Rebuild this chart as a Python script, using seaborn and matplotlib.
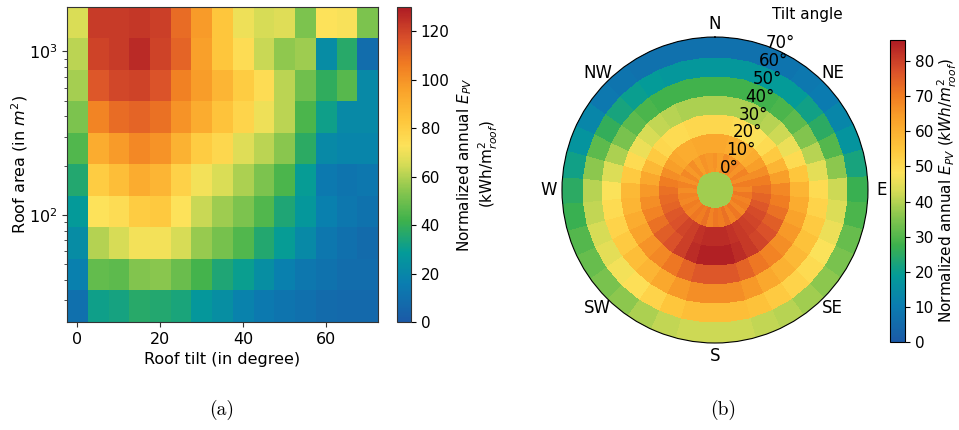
import numpy as np
import pandas as pd
import matplotlib
matplotlib.use("Agg")
import matplotlib.pyplot as plt
from matplotlib.colors import LinearSegmentedColormap
import seaborn as sns

# ---------------------------------------------------------------- data
# (a) roof tilt classes (deg) and roof-area class edges (m^2, log spaced)
tilt_classes = [0, 5, 10, 15, 20, 25, 30, 35, 40, 45, 50, 55, 60, 65, 70]
area_edges = [22.1, 34.4, 53.7, 83.7, 130.5, 203.4, 317, 494, 770, 1200, 1870]

# normalized annual E_PV per (area class, tilt class); largest areas first
area_1870 = [66, 122, 122, 123, 121, 110, 98, 83, 70, 65, 67, 52, 73, 72, 52]
area_1200 = [61, 120, 122, 126, 120, 112, 96, 83, 75, 63, 55, 57, 22, 37, 9]
area_770 = [58, 115, 119, 120, 116, 105, 97, 89, 81, 75, 61, 50, 39, 46, 21]
area_494 = [52, 104, 110, 112, 109, 100, 92, 84, 78, 70, 61, 44, 31, 21, 21]
area_317 = [45, 92, 98, 103, 100, 90, 81, 77, 67, 61, 54, 38, 21, 19, 19]
area_203 = [36, 81, 86, 92, 89, 79, 71, 66, 59, 52, 44, 29, 14, 12, 13]
area_130 = [28, 73, 75, 81, 82, 73, 63, 57, 52, 45, 35, 27, 17, 13, 11]
area_84 = [22, 60, 65, 71, 71, 65, 56, 51, 45, 36, 29, 21, 13, 10, 8]
area_54 = [17, 48, 47, 53, 54, 49, 43, 35, 30, 23, 17, 13, 11, 9, 9]
area_34 = [10, 31, 33, 37, 36, 34, 27, 23, 18, 14, 12, 10, 8, 7, 7]

# (b) tilt rings and azimuth sectors (deg, clockwise from north)
tilt_rings = [0, 10, 20, 30, 40, 50, 60, 70]
azimuths = list(range(0, 360, 10))
flat_roof = 38
ring_10 = [66, 64, 67, 65, 68, 66, 69, 67, 70, 68, 71, 69, 70, 68, 71, 69, 72, 70,
           71, 69, 72, 70, 71, 69, 70, 68, 69, 67, 69, 66, 68, 65, 67, 64, 66, 65]
ring_20 = [62, 62, 61, 60, 60, 61, 64, 67, 70, 72, 74, 76, 78, 79, 80, 81, 82, 83,
           83, 83, 82, 80, 79, 77, 76, 74, 73, 72, 70, 67, 64, 62, 61, 61, 62, 62]
ring_30 = [51, 51, 50, 49, 48, 50, 54, 59, 64, 68, 70, 72, 75, 77, 79, 81, 83, 85,
           85, 85, 83, 80, 77, 75, 72, 69, 67, 65, 62, 58, 54, 51, 50, 50, 51, 51]
ring_40 = [39, 39, 39, 39, 40, 42, 46, 50, 55, 59, 61, 63, 65, 67, 69, 71, 74, 76,
           76, 76, 74, 71, 68, 66, 63, 61, 59, 58, 54, 50, 46, 43, 41, 40, 39, 39]
ring_50 = [28, 28, 28, 28, 29, 31, 35, 40, 45, 50, 52, 54, 56, 58, 60, 62, 65, 67,
           67, 67, 65, 62, 59, 57, 54, 52, 50, 48, 44, 39, 34, 31, 29, 28, 28, 28]
ring_60 = [18, 18, 18, 19, 19, 21, 25, 30, 36, 42, 44, 46, 48, 50, 52, 54, 56, 57,
           57, 57, 55, 52, 49, 47, 45, 43, 41, 40, 36, 31, 26, 22, 20, 19, 18, 18]
ring_70 = [7, 7, 7, 8, 9, 10, 13, 17, 22, 27, 29, 32, 34, 36, 38, 40, 41, 42,
           42, 42, 41, 39, 36, 34, 32, 30, 27, 25, 21, 17, 13, 9, 8, 7, 7, 7]

compass = ["N", "NE", "E", "SE", "S", "SW", "W", "NW"]

# ---------------------------------------------------------------- style
plt.rcParams.update({
    "font.family": ["DejaVu Sans"],
    "font.size": 11,
    "mathtext.fontset": "dejavusans",
    "axes.linewidth": 0.8,
})

cmap = LinearSegmentedColormap.from_list("epv", [
    (0.00, "#1b5aa7"), (0.12, "#0a7db0"), (0.22, "#049b98"),
    (0.32, "#3db14c"), (0.42, "#8cc74e"), (0.50, "#d6dc56"),
    (0.56, "#fde25a"), (0.64, "#fec63c"), (0.74, "#f9a12a"),
    (0.82, "#f07b22"), (0.90, "#d9502a"), (1.00, "#ae1c24"),
])

fig = plt.figure(figsize=(9.59, 4.30), dpi=100)

# ---------------------------------------------------------------- (a)
rows = [area_1870, area_1200, area_770, area_494, area_317,
        area_203, area_130, area_84, area_54, area_34]
row_labels = [f"{lo}-{hi}" for lo, hi in zip(area_edges[-2::-1], area_edges[:0:-1])]
grid = pd.DataFrame(rows, index=row_labels, columns=tilt_classes)

ax = fig.add_axes([0.0699, 0.2512, 0.3243, 0.7326])
cax = fig.add_axes([0.4140, 0.2512, 0.0146, 0.7326])
sns.heatmap(grid, ax=ax, cbar_ax=cax, cmap=cmap, vmin=0, vmax=130,
            xticklabels=False, yticklabels=False,
            cbar_kws={"ticks": [0, 20, 40, 60, 80, 100, 120]})

for sp in ax.spines.values():
    sp.set_visible(True)
    sp.set_linewidth(0.8)
    sp.set_color("#333333")
hm_cbar = ax.collections[0].colorbar
hm_cbar.outline.set_linewidth(0.8)
hm_cbar.outline.set_edgecolor("#333333")
cax.tick_params(labelsize=11)

# tilt axis: column k is centred on tilt_classes[k]
step = tilt_classes[1] - tilt_classes[0]
xt = [0, 20, 40, 60]
ax.set_xticks([t / step + 0.5 for t in xt])
ax.set_xticklabels([str(t) for t in xt])

# area axis: logarithmic position within the class edges
log_top = np.log10(area_edges[-1])
dlog = (np.log10(area_edges[-1]) - np.log10(area_edges[0])) / (len(area_edges) - 1)
ypos = lambda v: (log_top - np.log10(v)) / dlog
ax.set_yticks([ypos(100), ypos(1000)])
ax.set_yticklabels([r"$\mathdefault{10^{2}}$", r"$\mathdefault{10^{3}}$"], rotation=0)
minor = [m * d for d in (10, 100) for m in range(2, 10) if area_edges[0] < m * d < area_edges[-1]]
ax.set_yticks([ypos(v) for v in minor], minor=True)
ax.tick_params(axis="both", which="both", direction="out", color="#333333", labelsize=11.5)
ax.tick_params(axis="both", which="major", length=3.5)
ax.tick_params(axis="y", which="minor", length=2)

ax.set_xlabel("Roof tilt (in degree)", fontsize=11.5)
ax.set_ylabel(r"Roof area (in $m^2$)", fontsize=11.5, labelpad=-1)
cax.set_ylabel("Normalized annual $E_{PV}$\n(kWh/m$^2_{roof}$)", fontsize=11)

# ---------------------------------------------------------------- (b)
pax = fig.add_axes([0.5860, 0.2023, 0.3191, 0.7116], projection="polar")
pax.set_theta_zero_location("N")
pax.set_theta_direction(-1)

sector = np.deg2rad(azimuths[1] - azimuths[0])
theta_edges = np.deg2rad(np.array(azimuths + [360])) - sector / 2
r_edges = np.arange(len(tilt_rings) + 1)
Z = np.array([[flat_roof] * len(azimuths), ring_10, ring_20, ring_30,
              ring_40, ring_50, ring_60, ring_70], dtype=float)
mesh = pax.pcolormesh(theta_edges, r_edges, Z, cmap=cmap, vmin=0, vmax=86,
                      shading="flat", edgecolors="face", linewidth=0.2)
pax.set_ylim(0, len(tilt_rings))
pax.grid(False)
pax.set_xticks(np.deg2rad(np.arange(0, 360, 45)))
pax.set_xticklabels(compass)
pax.tick_params(axis="x", pad=-1, labelsize=12)
# tilt labels sit just inside the outer edge of each ring
pax.set_yticks(r_edges[1:] - 0.3)
pax.set_yticklabels([f"{t}°" for t in tilt_rings])
pax.set_rlabel_position(20)
pax.tick_params(axis="y", labelsize=12)
pax.spines["polar"].set_linewidth(0.8)
fig.text(807 / 959, 1 - 15 / 430, "Tilt angle", ha="center", va="center", fontsize=11)

pcax = fig.add_axes([0.9280, 0.2047, 0.0156, 0.7023])
cb = fig.colorbar(mesh, cax=pcax, ticks=range(0, 81, 10))
cb.outline.set_linewidth(0.8)
pcax.tick_params(labelsize=11)
cb.set_label(r"Normalized annual $E_{PV}$ $(kWh/m^2_{roof})$", fontsize=11, labelpad=1)

# ---------------------------------------------------------------- captions
fig.text(222 / 959, 1 - 410 / 430, "(a)", ha="center", va="center",
         family=["cmr10", "DejaVu Serif"], fontsize=14)
fig.text(723 / 959, 1 - 410 / 430, "(b)", ha="center", va="center",
         family=["cmr10", "DejaVu Serif"], fontsize=14)

fig.savefig("out.png", dpi=100)
